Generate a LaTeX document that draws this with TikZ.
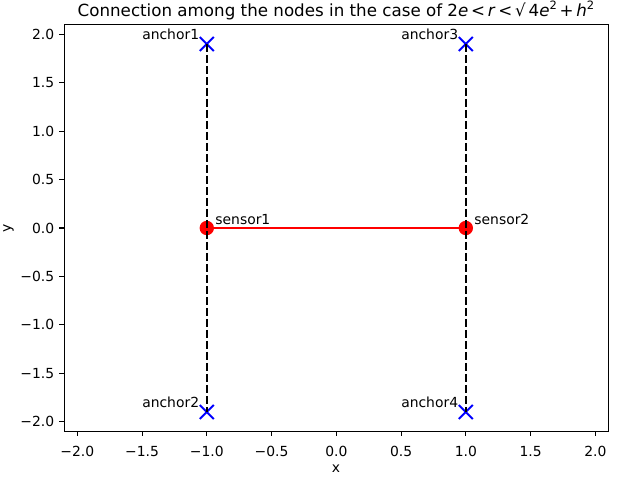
\documentclass[tikz,border=0pt]{standalone}
\usepackage{fontspec}
\setmainfont{DejaVu Sans}
\begin{document}
\begin{tikzpicture}[x=1pt,y=-1pt,
  lbl/.style={inner sep=0pt,font=\fontsize{13.9}{16}\selectfont},
  anchorlbl/.style={lbl,anchor=base west},
  tick/.style={line width=1.1pt},
  xmark/.style={draw=blue,line width=2pt},
  link/.style={red,line width=2.08pt},
  vlink/.style={black,line width=2.08pt,dash pattern=on 7.7pt off 3.3pt}]
\useasboundingbox (0,0) rectangle (640,480);
\fill[white] (0,0) rectangle (640,480);
% title
\node[lbl,anchor=base,font=\fontsize{16.7}{20}\selectfont] (title) at (336,16.5)
  {Connection among the nodes in the case of 2\textit{e}\,<\,\textit{r}\,<\,√\,4\textit{e}\raisebox{0.42em}{\fontsize{11.5}{12}\selectfont 2}\,+\,\textit{h}\raisebox{0.42em}{\fontsize{11.5}{12}\selectfont 2}};
% axis labels
\node[lbl,anchor=base] (xlabel) at (336,472) {x};
\node[lbl,rotate=90,anchor=center] (ylabel) at (8.5,228) {y};
\begin{scope}[shift={(336.3,228)},x=129.5pt,y=96.85pt]
  % ticks
  \foreach \v/\t in {-2/−2.0,-1.5/−1.5,-1/−1.0,-0.5/−0.5,0/0.0,0.5/0.5,1/1.0,1.5/1.5,2/2.0}{
    \draw[tick] (\v,-2.1) -- ++(0,-4.9pt);
    \node[lbl,anchor=base] at ([yshift=-25.3pt]\v,-2.1) {\t};
    \draw[tick] (-2.1,\v) -- ++(-4.9pt,0);
    \node[lbl,anchor=base east] at ([xshift=-9.9pt,yshift=-5pt]-2.1,\v) {\t};
  }
  % nodes
  \coordinate (a1) at (-1,1.9);
  \coordinate (a2) at (-1,-1.9);
  \coordinate (a3) at (1,1.9);
  \coordinate (a4) at (1,-1.9);
  \coordinate (s1) at (-1,0);
  \coordinate (s2) at (1,0);
  \foreach \p in {a1,a2,a3,a4}{
    \draw[xmark] ([shift={(-7pt,-7pt)}]\p) -- ([shift={(7pt,7pt)}]\p)
                 ([shift={(-7pt,7pt)}]\p) -- ([shift={(7pt,-7pt)}]\p);
  }
  \foreach \p in {s1,s2}{
    \fill[red] (\p) circle[radius=7.2pt];
  }
  \draw[link] (s1) -- (s2);
  \draw[vlink] (a1) -- (a2);
  \draw[vlink] (a3) -- (a4);
  % labels
  \node[anchorlbl] (la1) at (-1.5,1.95) {anchor1};
  \node[anchorlbl] (la2) at (-1.5,-1.85) {anchor2};
  \node[anchorlbl] (la3) at (0.5,1.95) {anchor3};
  \node[anchorlbl] (la4) at (0.5,-1.85) {anchor4};
  \node[anchorlbl] (ls1) at (-0.935,0.04) {sensor1};
  \node[anchorlbl] (ls2) at (1.065,0.04) {sensor2};
  % frame
  \draw[line width=1.1pt] (-2.1,-2.1) rectangle (2.1,2.1);
\end{scope}
\end{tikzpicture}
\end{document}
